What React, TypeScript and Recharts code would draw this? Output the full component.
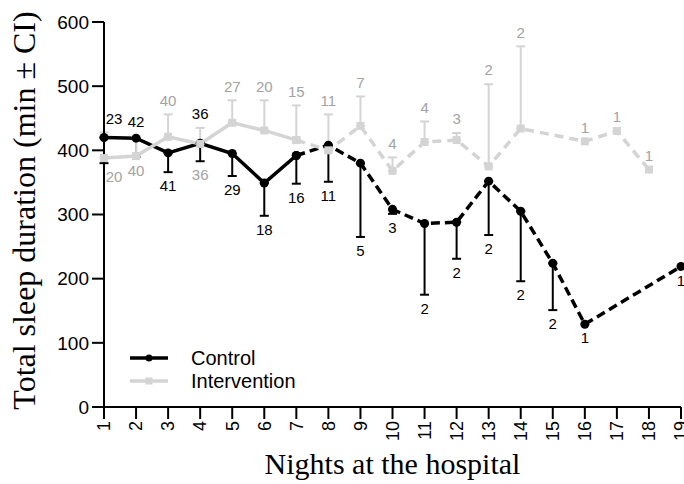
import React from "react";
import {
  ComposedChart,
  Line,
  XAxis,
  YAxis,
  ErrorBar,
  LabelList,
  Legend,
} from "recharts";

// nights 1..19; null = no data that night
const nights = [1, 2, 3, 4, 5, 6, 7, 8, 9, 10, 11, 12, 13, 14, 15, 16, 17, 18, 19];

const controlMean = [420, 419, 396, 411, 395, 349, 392, 408, 380, 308, 286, 288, 352, 305, 224, 129, null, null, 219];
const controlLower = [380, 390, 366, 383, 360, 298, 348, 351, 265, 301, 175, 231, 268, 196, 151, null, null, null, null];
const controlN = [23, 42, 41, 36, 29, 18, 16, 11, 5, 3, 2, 2, 2, 2, 2, 1, null, null, 1];

const interventionMean = [388, 391, 421, 410, 443, 431, 416, 400, 438, 368, 413, 416, 375, 434, null, 414, 430, 370, null];
const interventionUpper = [428, 422, 456, 435, 478, 478, 470, 456, 484, 389, 445, 427, 503, 562, null, null, null, null, null];
const interventionN = [20, 40, 40, 36, 27, 20, 15, 11, 7, 4, 4, 3, 2, 2, null, 1, 1, 1, null];

// nights where the control n sits on top and the intervention n below
const swappedLabelNights = [1, 2, 4];
const lastSolidNight = 7;
const yTicks = [0, 100, 200, 300, 400, 500, 600];

const BLACK = "#000";
const GRAY = "#d4d4d4";
const GRAY_TEXT = "#a3a3a3";
const SANS = "'Liberation Sans', Arial, sans-serif";
const SERIF = "'Liberation Serif', 'Times New Roman', serif";

const data = nights.map((night, i) => {
  const c = controlMean[i];
  const v = interventionMean[i];
  const cLo = controlLower[i];
  const vHi = interventionUpper[i];
  const swapped = swappedLabelNights.includes(night);
  return {
    night,
    swapped,
    control: c,
    controlSolid: c != null && night <= lastSolidNight ? c : null,
    controlDashed: c != null && night >= lastSolidNight ? c : null,
    controlErr: c != null && cLo != null ? [c - cLo, 0] : null,
    intervention: v,
    interventionSolid: v != null && night <= lastSolidNight ? v : null,
    interventionDashed: v != null && night >= lastSolidNight ? v : null,
    interventionErr: v != null && vHi != null ? [0, vHi - v] : null,
    controlLabelAt: c == null ? null : swapped ? vHi : cLo ?? c,
    interventionLabelAt: v == null ? null : swapped ? cLo : vHi ?? v,
    controlN: controlN[i],
    interventionN: interventionN[i],
  };
});

const SquareDot = (props: any) => {
  const { cx, cy } = props;
  if (cx == null || cy == null || !isFinite(cy)) return null;
  return <rect x={cx - 4} y={cy - 4} width={8} height={8} fill={GRAY} />;
};

const RoundDot = (props: any) => {
  const { cx, cy } = props;
  if (cx == null || cy == null || !isFinite(cy)) return null;
  return <circle cx={cx} cy={cy} r={4.5} fill={BLACK} />;
};

// side: 1 = below the anchor, -1 = above
const nLabel = (color: string, side: number) => (props: any) => {
  const { x, y, value, index } = props;
  if (value == null || x == null || y == null || !isFinite(y)) return null;
  const row = data[index];
  const dir = row.swapped ? -side : side;
  const dx = row.night === 1 ? 10 : 0;
  return (
    <text
      x={x + dx}
      y={y + dir * 14}
      dy="0.35em"
      textAnchor="middle"
      fontSize={15}
      fontFamily={SANS}
      fill={color}
    >
      {value}
    </text>
  );
};

const NightTick = (props: any) => {
  const { x, y, payload } = props;
  return (
    <text
      x={x}
      y={y}
      transform={`rotate(-90, ${x}, ${y})`}
      textAnchor="end"
      dy="0.35em"
      fontSize={18}
      fontFamily={SANS}
      fill={BLACK}
    >
      {payload.value}
    </text>
  );
};

const renderLegend = () => (
  <svg width={200} height={50}>
    <line x1={2} x2={40} y1={13} y2={13} stroke={BLACK} strokeWidth={3.5} />
    <circle cx={21} cy={13} r={3.5} fill={BLACK} />
    <text x={63} y={13} dy="0.35em" fontSize={20} fontFamily={SANS} fill={BLACK}>
      Control
    </text>
    <line x1={2} x2={40} y1={36} y2={36} stroke={GRAY} strokeWidth={3.5} />
    <rect x={17.5} y={32.5} width={7} height={7} fill={GRAY} />
    <text x={63} y={36} dy="0.35em" fontSize={20} fontFamily={SANS} fill={BLACK}>
      Intervention
    </text>
  </svg>
);

export default function App() {
  return (
    <div style={{ position: "absolute", left: 0, top: 0, background: "#fff" }}>
      <ComposedChart
        width={684}
        height={484}
        data={data}
        margin={{ top: 22, right: 3, bottom: 0, left: 0 }}
      >
        <XAxis
          type="number"
          dataKey="night"
          domain={[1, 19]}
          ticks={nights}
          interval={0}
          height={77}
          tickSize={12}
          tickMargin={2}
          axisLine={{ stroke: BLACK, strokeWidth: 2 }}
          tickLine={{ stroke: BLACK, strokeWidth: 2 }}
          tick={<NightTick />}
          label={{
            content: (p: any) => {
              const vb = p.viewBox;
              return (
                <text
                  x={vb.x + vb.width / 2}
                  y={vb.y + 67}
                  textAnchor="middle"
                  fontSize={30}
                  fontFamily={SERIF}
                  fill={BLACK}
                >
                  Nights at the hospital
                </text>
              );
            },
          }}
        />
        <YAxis
          type="number"
          domain={[0, 600]}
          ticks={yTicks}
          width={104}
          tickSize={12}
          tickMargin={3}
          axisLine={{ stroke: BLACK, strokeWidth: 2 }}
          tickLine={{ stroke: BLACK, strokeWidth: 2 }}
          tick={{ fill: BLACK, fontSize: 19, fontFamily: SANS }}
          label={{
            content: (p: any) => {
              const vb = p.viewBox;
              const cx = 35;
              const cy = vb.y + vb.height / 2 - 4;
              return (
                <text
                  x={cx}
                  y={cy}
                  transform={`rotate(-90, ${cx}, ${cy})`}
                  textAnchor="middle"
                  fontSize={32}
                  fontFamily={SERIF}
                  fill={BLACK}
                >
                  Total sleep duration (min ± CI)
                </text>
              );
            },
          }}
        />
        <Legend
          layout="horizontal"
          verticalAlign="middle"
          align="center"
          content={renderLegend}
          wrapperStyle={{ left: 128, top: 345, width: 200, height: 50 }}
        />

        {/* control */}
        <Line
          dataKey="control"
          stroke="none"
          dot={false}
          activeDot={false}
          legendType="none"
          isAnimationActive={false}
        >
          <ErrorBar dataKey="controlErr" width={4.5} stroke={BLACK} strokeWidth={2} />
        </Line>
        <Line
          dataKey="controlSolid"
          stroke={BLACK}
          strokeWidth={3.5}
          dot={<RoundDot />}
          activeDot={false}
          isAnimationActive={false}
        />
        <Line
          dataKey="controlDashed"
          stroke={BLACK}
          strokeWidth={3.5}
          strokeDasharray="9 5"
          connectNulls
          dot={<RoundDot />}
          activeDot={false}
          legendType="none"
          isAnimationActive={false}
        />

        {/* intervention */}
        <Line
          dataKey="intervention"
          stroke="none"
          dot={false}
          activeDot={false}
          legendType="none"
          isAnimationActive={false}
        >
          <ErrorBar dataKey="interventionErr" width={4.5} stroke={GRAY} strokeWidth={2} />
        </Line>
        <Line
          dataKey="interventionSolid"
          stroke={GRAY}
          strokeWidth={3.5}
          dot={<SquareDot />}
          activeDot={false}
          isAnimationActive={false}
        />
        <Line
          dataKey="interventionDashed"
          stroke={GRAY}
          strokeWidth={3.5}
          strokeDasharray="9 6"
          connectNulls
          dot={<SquareDot />}
          activeDot={false}
          legendType="none"
          isAnimationActive={false}
        />

        {/* n labels */}
        <Line
          dataKey="controlLabelAt"
          stroke="none"
          dot={false}
          activeDot={false}
          legendType="none"
          isAnimationActive={false}
        >
          <LabelList dataKey="controlN" content={nLabel(BLACK, 1)} />
        </Line>
        <Line
          dataKey="interventionLabelAt"
          stroke="none"
          dot={false}
          activeDot={false}
          legendType="none"
          isAnimationActive={false}
        >
          <LabelList dataKey="interventionN" content={nLabel(GRAY_TEXT, -1)} />
        </Line>
      </ComposedChart>
    </div>
  );
}
